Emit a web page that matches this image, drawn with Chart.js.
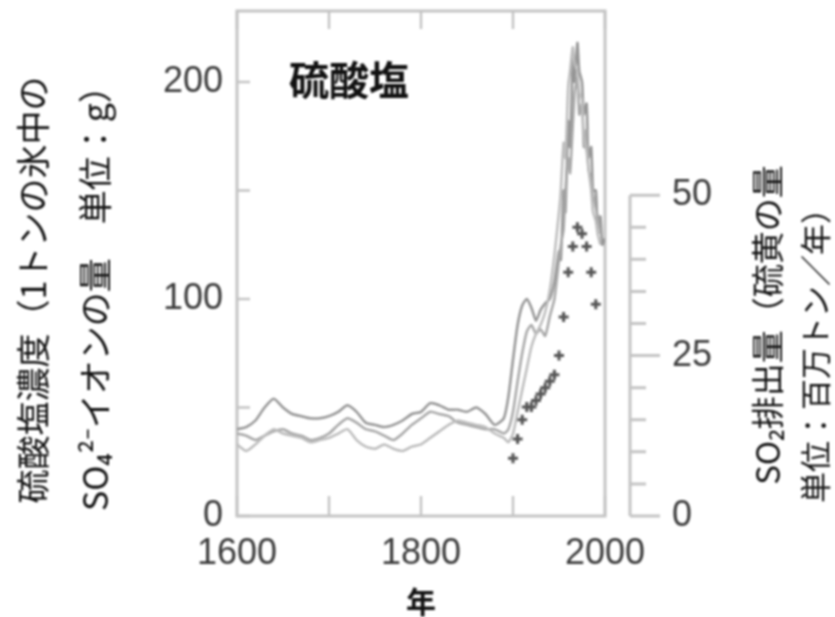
<!DOCTYPE html>
<html lang="ja">
<head>
<meta charset="utf-8">
<title>硫酸塩</title>
<script src="https://cdn.jsdelivr.net/npm/chart.js@4.4.1/dist/chart.umd.min.js"></script>
<style>
  html, body { margin: 0; padding: 0; background: #fff; }
  #chart { display: block; filter: blur(1.2px); }
</style>
</head>
<body>
<canvas id="chart" width="835" height="617"></canvas>
<script>
// ice core sulfate records (left axis) and SO2 emissions (right axis)
const years = [1600, 1610, 1620, 1630, 1640, 1650, 1660, 1670, 1680, 1690,
               1700, 1710, 1720, 1730, 1740, 1750, 1760, 1770, 1780, 1790,
               1800, 1810, 1820, 1830, 1840, 1850, 1860, 1870, 1880, 1890,
               1895, 1900, 1905, 1910, 1915, 1920, 1925, 1930, 1935, 1940,
               1945, 1950, 1952, 1955, 1957, 1960, 1962, 1965, 1967, 1970,
               1972, 1975, 1977, 1980, 1982, 1985, 1987, 1990, 1992, 1995,
               1997, 2000];
const coreA = [40, 41, 44, 50, 54, 50, 47, 46, 45, 45,
               46, 48, 51, 48, 43, 42, 41, 42, 44, 47,
               48, 52, 51, 49, 49, 48, 50, 47, 42, 45,
               55, 72, 88, 97, 100, 96, 90, 95, 98, 100,
               108, 122, 118, 150, 140, 182, 170, 210, 200, 218,
               205, 200, 185, 190, 165, 170, 150, 150, 135, 138,
               125, 128];
const coreB = [38, 37, 35, 37, 39, 40, 38, 37, 35, 36,
               38, 42, 45, 43, 40, 39, 37, 35, 38, 42,
               45, 48, 47, 46, 43, 42, 41, 40, 40, 38,
               40, 48, 62, 75, 85, 88, 84, 86, 83, 92,
               100, 118, 125, 132, 150, 165, 158, 180, 195, 202,
               185, 190, 170, 178, 160, 155, 148, 142, 138, 130,
               null, null];
const coreC = [33, 30, 33, 37, 40, 38, 37, 36, 34, 35,
               36, 38, 40, 35, 32, 31, 33, 31, 30, 32,
               33, 36, 39, 42, 44, 43, 42, 41, 38, 36,
               34, 38, 48, 58, 68, 78, 84, 88, 94, 104,
               120, 140, 150, 172, 165, 198, 205, 216, 208, 205,
               195, 192, 175, 168, 160, 150, 140, 136, 130, 125,
               null, null];
const emisYears = [1900, 1905, 1910, 1915, 1920, 1925, 1930, 1935, 1940, 1945,
                   1950, 1955, 1960, 1965, 1970, 1975, 1980, 1985, 1990];
const emisSO2 = [9, 12, 15, 17, 17, 18, 19, 20, 21, 22,
                 25, 31, 38, 42, 45, 44, 42, 38, 33];

const xTicks = [1600, 1700, 1800, 1900, 2000];
const xLabels = [1600, 1800, 2000];
const yTicks = [0, 50, 100, 150, 200];
const yLabels = [0, 100, 200];
const y2Ticks = [0, 5, 10, 15, 20, 25, 30, 35, 40, 45, 50];
const y2Labels = [0, 25, 50];

const numFont = { family: "'Liberation Sans', Arial, sans-serif", size: 36 };
const jpFont = "'Noto Sans CJK JP', 'Noto Sans', sans-serif";

function points(xs, ys) {
    return xs.map((x, i) => ({ x: x, y: ys[i] }));
}

function setTicks(list) {
    return scale => { scale.ticks = list.map(v => ({ value: v })); };
}

// keep the tick label half-heights from pushing the plot down
function fixWidth(w) {
    return scale => {
        scale.width = w;
        scale.paddingTop = 0;
        scale.paddingBottom = 0;
    };
}

// frame, inward ticks, right-hand bracket axis and rotated titles
const decorPlugin = {
    id: 'decor',
    beforeDatasetsDraw(chart) {
        const { ctx, chartArea: a, scales } = chart;
        ctx.save();
        ctx.strokeStyle = '#c4c4c4';
        ctx.lineWidth = 3;
        ctx.strokeRect(a.left, a.top, a.right - a.left, a.bottom - a.top);

        ctx.lineWidth = 2.5;
        ctx.beginPath();
        xTicks.forEach(v => {
            const px = scales.x.getPixelForValue(v);
            ctx.moveTo(px, a.bottom); ctx.lineTo(px, a.bottom - 20);
            ctx.moveTo(px, a.top); ctx.lineTo(px, a.top + 18);
        });
        yTicks.forEach(v => {
            const py = scales.y.getPixelForValue(v);
            ctx.moveTo(a.left, py); ctx.lineTo(a.left + 13, py);
        });
        ctx.stroke();

        // right axis: line from 0 to 50 sitting away from the frame
        const bx = a.right + 25;
        const y2 = scales.y2;
        ctx.lineWidth = 3;
        ctx.beginPath();
        ctx.moveTo(bx, y2.getPixelForValue(0));
        ctx.lineTo(bx, y2.getPixelForValue(50));
        y2Ticks.forEach(v => {
            const py = y2.getPixelForValue(v);
            const len = y2Labels.includes(v) ? 30 : 16;
            ctx.moveTo(bx, py); ctx.lineTo(bx + len, py);
        });
        ctx.stroke();
        ctx.restore();
    },
    afterDraw(chart) {
        const { ctx } = chart;
        const vtext = (text, x, y, size) => {
            ctx.save();
            ctx.translate(x, y);
            ctx.rotate(-Math.PI / 2);
            ctx.font = size + 'px ' + jpFont;
            ctx.fillStyle = '#111';
            ctx.textAlign = 'center';
            ctx.textBaseline = 'middle';
            ctx.fillText(text, 0, 0);
            ctx.restore();
        };
        vtext('硫酸塩濃度（1トンの氷中の', 33, 290, 34);
        vtext('SO₄²⁻イオンの量　単位：g）', 95, 290, 34);
        vtext('SO₂排出量（硫黄の量', 767, 325, 33);
        vtext('単位：百万トン／年）', 815, 348, 31);

        ctx.save();
        ctx.font = 'bold 40px ' + jpFont;
        ctx.fillStyle = '#111';
        ctx.textAlign = 'center';
        ctx.textBaseline = 'middle';
        ctx.fillText('硫酸塩', 349, 80);
        ctx.restore();
    }
};

const lineStyle = { pointRadius: 0, borderWidth: 2.5, tension: 0.2, spanGaps: false, yAxisID: 'y' };

new Chart(document.getElementById('chart'), {
    type: 'line',
    data: {
        datasets: [
            { ...lineStyle, data: points(years, coreC), borderColor: '#bdbdbd' },
            { ...lineStyle, data: points(years, coreB), borderColor: '#a8a8a8' },
            { ...lineStyle, data: points(years, coreA), borderColor: '#969696' },
            {
                data: points(emisYears, emisSO2), yAxisID: 'y2', showLine: false,
                pointStyle: 'cross', pointRadius: 5, borderColor: '#555', borderWidth: 3
            }
        ]
    },
    options: {
        responsive: false,
        animation: false,
        devicePixelRatio: 1,
        layout: { padding: { top: 11, left: 0, right: 0, bottom: 0 } },
        plugins: { legend: { display: false }, tooltip: { enabled: false } },
        scales: {
            x: {
                type: 'linear', min: 1600, max: 2000,
                afterBuildTicks: setTicks(xTicks),
                afterFit: s => { s.height = 101; },
                grid: { display: false, drawTicks: false },
                border: { display: false },
                ticks: {
                    autoSkip: false, maxRotation: 0, padding: 16, color: '#3c3c3c', font: numFont,
                    callback: v => xLabels.includes(v) ? String(v) : ''
                },
                title: {
                    display: true, text: '年', color: '#111', padding: 0,
                    font: { family: jpFont, size: 30, weight: 'bold', lineHeight: 1 }
                }
            },
            y: {
                position: 'left', min: 0, max: 232.7,
                afterBuildTicks: setTicks(yTicks),
                afterFit: fixWidth(237),
                grid: { display: false, drawTicks: false },
                border: { display: false },
                ticks: {
                    padding: 14, color: '#3c3c3c', font: numFont,
                    callback: v => yLabels.includes(v) ? String(v) : ''
                }
            },
            y2: {
                position: 'right', min: 0, max: 78.7,
                afterBuildTicks: setTicks(y2Ticks),
                afterFit: fixWidth(230),
                grid: { display: false, drawTicks: false },
                border: { display: false },
                ticks: {
                    padding: 67, color: '#3c3c3c', font: numFont,
                    callback: v => y2Labels.includes(v) ? String(v) : ''
                }
            }
        }
    },
    plugins: [decorPlugin]
});
</script>
</body>
</html>
